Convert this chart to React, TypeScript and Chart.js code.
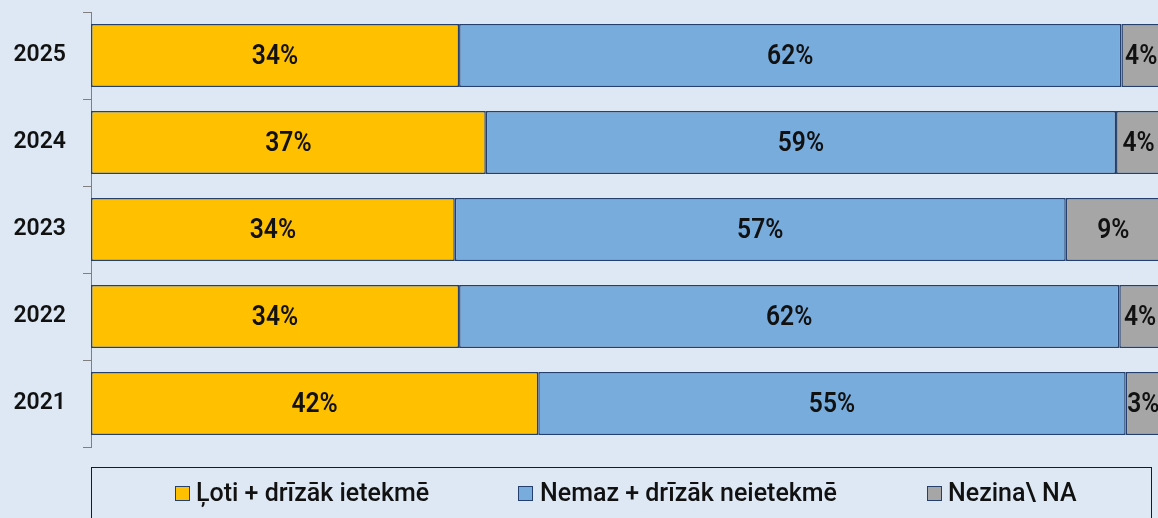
import React, { useEffect, useRef } from "react";
import { Chart, registerables } from "chart.js";

Chart.register(...registerables);

const years = ["2025", "2024", "2023", "2022", "2021"];
const seriesNames = ["Ļoti + drīzāk ietekmē", "Nemaz + drīzāk neietekmē", "Nezina\\ NA"];
const affected = [34.4, 36.9, 34.0, 34.4, 41.8];
const notAffected = [61.9, 58.9, 57.1, 61.7, 54.9];
const dontKnow = [3.7, 4.2, 8.9, 3.9, 3.3];
const seriesColors = ["#FFC000", "#78ACDC", "#A6A6A6"];

const BG = "#DDE8F4";
const BORDER = "#26406E";

const labelPlugin = {
  id: "segLabels",
  afterDatasetsDraw(chart: any) {
    const ctx = chart.ctx;
    ctx.save();
    ctx.font = "600 28px Roboto";
    ctx.fillStyle = "#111111";
    ctx.textAlign = "center";
    ctx.textBaseline = "middle";
    chart.data.datasets.forEach((ds: any, di: number) => {
      const meta = chart.getDatasetMeta(di);
      meta.data.forEach((el: any, i: number) => {
        const { x, base, y } = el.getProps(["x", "base", "y"], true);
        const cx = (x + base) / 2;
        const txt = Math.round(ds.data[i]) + "%";
        ctx.save();
        ctx.translate(cx, y + 1);
        ctx.scale(0.88, 1);
        ctx.fillText(txt, 0, 0);
        ctx.restore();
      });
    });
    ctx.restore();
  },
};

export default function App() {
  const ref = useRef<HTMLCanvasElement | null>(null);

  useEffect(() => {
    if (!ref.current) return;
    const series = [affected, notAffected, dontKnow];
    const chart = new Chart(ref.current, {
      type: "bar",
      data: {
        labels: years,
        datasets: series.map((d, i) => ({
          label: seriesNames[i],
          data: d,
          backgroundColor: seriesColors[i],
          borderColor: BORDER,
          borderWidth: 1.5,
          borderSkipped: false,
          categoryPercentage: 1,
          barPercentage: 0.724,
        })),
      },
      options: {
        indexAxis: "y",
        responsive: false,
        animation: false,
        layout: { padding: { top: 12, bottom: 71, left: 0, right: 0 } },
        plugins: {
          legend: { display: false },
          tooltip: { enabled: false },
        },
        scales: {
          x: { stacked: true, min: 0, max: 100, display: false },
          y: {
            stacked: true,
            grid: {
              offset: true,
              drawOnChartArea: false,
              drawTicks: true,
              tickLength: 8,
              color: "#7F7F7F",
              lineWidth: 1,
            },
            border: { display: true, color: "#7F7F7F", width: 1 },
            ticks: {
              padding: 17,
              color: "#111111",
              font: { family: "Roboto", size: 23, weight: "600" },
            },
            afterFit: (s: any) => {
              s.width = 91;
              s.paddingTop = 0;
              s.paddingBottom = 0;
            },
          },
        },
      } as any,
      plugins: [labelPlugin],
    });
    return () => chart.destroy();
  }, []);

  const legendItems = [
    { sq: 175, tx: 196 },
    { sq: 518, tx: 540 },
    { sq: 927, tx: 948 },
  ];

  return (
    <div
      style={{
        position: "fixed",
        left: 0,
        top: 0,
        width: 1158,
        height: 518,
        overflow: "hidden",
        background: BG,
      }}
    >
      <canvas
        ref={ref}
        width={1161}
        height={518}
        style={{ position: "absolute", left: 0, top: 0, width: 1161, height: 518, display: "block" }}
      />
      <div
        style={{
          position: "absolute",
          left: 91,
          top: 467,
          width: 1061,
          height: 80,
          border: "1px solid #1A1A1A",
          boxSizing: "border-box",
        }}
      />
      {legendItems.map((it, i) => (
        <React.Fragment key={i}>
          <div
            style={{
              position: "absolute",
              left: it.sq,
              top: 486,
              width: 15,
              height: 15,
              boxSizing: "border-box",
              background: seriesColors[i],
              border: "1.5px solid " + BORDER,
            }}
          />
          <div
            style={{
              position: "absolute",
              left: it.tx,
              top: 478,
              height: 30,
              lineHeight: "30px",
              fontFamily: "Roboto",
              fontWeight: 500,
              fontSize: 25,
              color: "#111111",
              whiteSpace: "nowrap",
            }}
          >
            {seriesNames[i]}
          </div>
        </React.Fragment>
      ))}
    </div>
  );
}
